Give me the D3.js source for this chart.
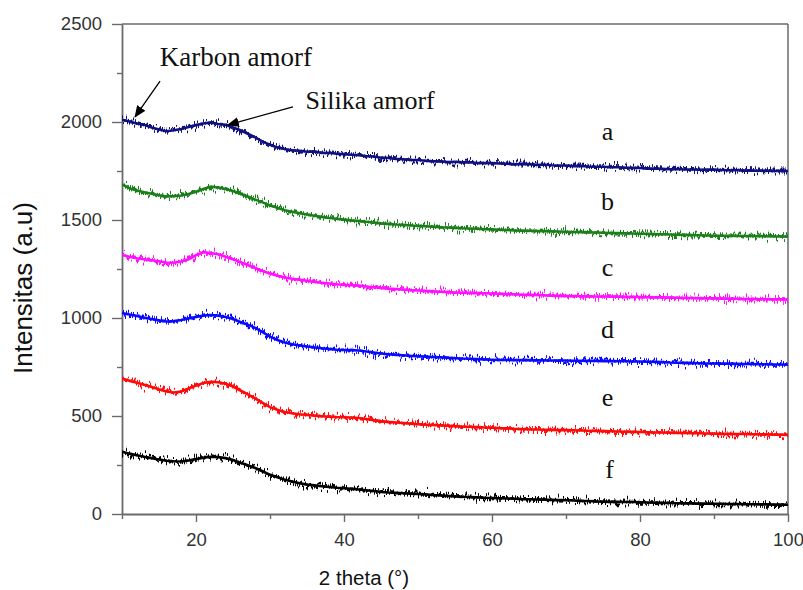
<!DOCTYPE html>
<html>
<head>
<meta charset="utf-8">
<script src="https://cdn.jsdelivr.net/npm/d3@7"></script>
<style>
  body { margin: 0; background: #fff; }
  svg text { font-family: "Liberation Sans", Arial, sans-serif; }
</style>
</head>
<body>
<div id="plot"></div>
<script>
// 2 theta sampling grid (1 degree steps, 10..100)
var twoTheta = d3.range(10, 101, 1);

// intensities, one value per degree
var seriesA = [2012,2003,1992,1986,1972,1962,1953,1958,1964,1975,1984,1992,1998,1990,1986,1972,1958,1940,1922,1900,
  1884,1870,1862,1855,1853,1848,1850,1842,1843,1838,1836,1833,1830,1826,1824,1818,1816,1812,1810,1806,
  1806,1802,1800,1799,1796,1797,1794,1795,1791,1790,1790,1788,1787,1784,1786,1785,1781,1783,1779,1778,
  1778,1775,1776,1773,1772,1772,1769,1769,1767,1766,1765,1762,1763,1761,1759,1760,1758,1758,1756,1757,
  1757,1755,1754,1755,1752,1753,1751,1752,1750,1751,1750];
var seriesB = [1682,1662,1650,1642,1634,1626,1620,1622,1625,1633,1644,1658,1670,1666,1658,1648,1634,1620,1604,1590,
  1574,1562,1550,1542,1534,1528,1522,1516,1510,1506,1502,1498,1495,1491,1487,1483,1480,1477,1475,1472,
  1470,1468,1466,1463,1462,1460,1458,1457,1455,1453,1452,1450,1449,1447,1446,1445,1444,1443,1442,1441,
  1440,1439,1438,1437,1436,1435,1434,1433,1432,1431,1430,1429,1428,1427,1426,1425,1424,1423,1422,1421,
  1420,1420,1419,1419,1418,1418,1417,1417,1416,1416,1415];
var seriesC = [1322,1312,1305,1300,1295,1290,1283,1282,1288,1300,1320,1336,1332,1325,1313,1300,1285,1270,1255,1240,
  1227,1215,1207,1200,1195,1190,1184,1180,1176,1172,1169,1167,1165,1161,1157,1153,1150,1148,1145,1142,
  1140,1138,1136,1134,1132,1130,1129,1128,1127,1126,1125,1124,1122,1121,1119,1118,1117,1116,1114,1113,
  1112,1112,1111,1111,1110,1110,1109,1109,1108,1108,1107,1106,1105,1105,1104,1103,1102,1102,1101,1100,
  1100,1099,1099,1098,1097,1097,1096,1096,1095,1095,1094];
var seriesD = [1025,1018,1010,1002,995,988,982,984,990,998,1005,1012,1015,1012,1005,995,980,966,950,928,
  905,888,875,866,860,855,850,846,842,838,837,836,834,829,824,819,815,812,810,807,
  805,803,801,799,797,795,793,792,790,788,787,786,786,785,785,785,784,784,783,783,
  783,782,782,781,781,780,780,779,779,778,778,777,776,775,773,772,771,770,769,768,
  768,767,767,766,765,765,764,764,763,763,762];
var seriesE = [692,680,670,660,648,636,625,620,625,640,655,668,675,672,665,650,630,610,590,567,
  545,532,520,514,509,505,502,499,497,495,494,492,490,485,479,474,470,467,464,461,
  458,456,454,452,450,448,446,445,443,441,440,438,437,435,434,432,431,430,429,428,
  428,427,426,425,424,423,422,421,420,419,418,417,416,416,415,414,413,412,412,411,
  410,409,409,408,408,407,406,406,405,405,404];
var seriesF = [318,308,300,292,285,278,272,269,268,273,280,287,292,290,285,275,262,249,235,218,
  200,187,175,166,157,150,146,142,138,134,131,128,125,121,117,113,110,108,106,104,
  102,100,97,95,92,90,88,87,85,83,82,80,79,78,76,75,74,73,72,71,
  70,69,67,66,64,63,62,62,61,61,60,59,58,57,56,55,54,54,53,53,
  52,52,51,51,50,50,49,49,48,48,47];

var seriesNames = ["a", "b", "c", "d", "e", "f"];
var seriesColors = ["#10107e", "#1a7f1a", "#ff10ff", "#0a0aff", "#ff0a0a", "#000000"];
// where each letter sits, in data units
var labelX = [75.6, 75.6, 75.6, 75.6, 75.6, 75.9];
var labelY = [1908, 1551, 1214, 898, 551, 184];

var xTicks = [20, 40, 60, 80, 100];
var xMinorTicks = [10, 30, 50, 70, 90];
var yTicks = [0, 500, 1000, 1500, 2000, 2500];
var yMinorTicks = [250, 750, 1250, 1750, 2250];

// annotations: text anchor and arrow tail/tip in data units
var annotations = [
  {text: "Karbon amorf", size: 27, tx: 15.1, ty: 2288, x1: 15.14, y1: 2209, x2: 11.76, y2: 2026},
  {text: "Silika amorf", size: 26, tx: 34.8, ty: 2066, x1: 33.1, y1: 2077, x2: 24.3, y2: 1985}
];

var allSeries = [seriesA, seriesB, seriesC, seriesD, seriesE, seriesF];

// dimensions
var margin = {top: 24, right: 15, bottom: 76, left: 122},
    width = 803 - margin.left - margin.right,
    height = 590 - margin.top - margin.bottom;

var svgRoot = d3.select("#plot")
  .append("svg")
  .attr("width", 803)
  .attr("height", 590);

var defs = svgRoot.append("defs");
// arrow head
defs.append("marker")
  .attr("id", "head")
  .attr("viewBox", "0 0 12 10")
  .attr("refX", 11)
  .attr("refY", 5)
  .attr("markerWidth", 12)
  .attr("markerHeight", 10)
  .attr("markerUnits", "userSpaceOnUse")
  .attr("orient", "auto")
  .append("path")
  .attr("d", "M0,0 L12,5 L0,10 Z")
  .attr("fill", "#000");

// keep the traces inside the frame horizontally
defs.append("clipPath")
  .attr("id", "plotclip")
  .append("rect")
  .attr("x", 0).attr("y", -30)
  .attr("width", width).attr("height", height + 60);

// jitter texture so the smooth traces look like raw diffractometer scans
// (region is in the plot group's own coordinates)
var flt = defs.append("filter")
  .attr("id", "fuzz")
  .attr("filterUnits", "userSpaceOnUse")
  .attr("x", -20).attr("y", -30).attr("width", 710).attr("height", 560)
  .attr("color-interpolation-filters", "sRGB");
flt.append("feTurbulence")
  .attr("type", "fractalNoise")
  .attr("baseFrequency", "0.9 0.04")
  .attr("numOctaves", 2)
  .attr("seed", 4)
  .attr("result", "t");
flt.append("feDisplacementMap")
  .attr("in", "SourceGraphic")
  .attr("in2", "t")
  .attr("scale", 16)
  .attr("xChannelSelector", "B")
  .attr("yChannelSelector", "R");

var svg = svgRoot.append("g")
  .attr("transform", "translate(" + margin.left + "," + margin.top + ")");

// scales
var x = d3.scaleLinear().domain([10, 100]).range([0, width]);
var y = d3.scaleLinear().domain([0, 2500]).range([height, 0]);

var axisColor = "#6a6a6a";

// frame: top and right
svg.append("line")
  .attr("x1", 0).attr("x2", width).attr("y1", 0).attr("y2", 0)
  .attr("stroke", axisColor).attr("stroke-width", 1.5);
svg.append("line")
  .attr("x1", width).attr("x2", width).attr("y1", 0).attr("y2", height)
  .attr("stroke", axisColor).attr("stroke-width", 1.5);

// X axis
var gx = svg.append("g")
  .attr("transform", "translate(0," + height + ")")
  .call(d3.axisBottom(x).tickValues(xTicks).tickSize(8).tickSizeOuter(0).tickFormat(d3.format("d")));
svg.append("g")
  .attr("transform", "translate(0," + height + ")")
  .call(d3.axisBottom(x).tickValues(xMinorTicks).tickSize(5).tickFormat(""))
  .select(".domain").remove();

// Y axis
var gy = svg.append("g")
  .call(d3.axisLeft(y).tickValues(yTicks).tickSize(10).tickSizeOuter(0).tickPadding(10).tickFormat(d3.format("d")));
svg.append("g")
  .call(d3.axisLeft(y).tickValues(yMinorTicks).tickSize(5).tickFormat(""))
  .select(".domain").remove();

svg.selectAll(".domain").attr("stroke", axisColor).attr("stroke-width", 1.8);
svg.selectAll(".tick line").attr("stroke", axisColor).attr("stroke-width", 1.4);
svg.selectAll(".tick text")
  .attr("fill", "#333")
  .style("font-size", "18.5px")
  .style("font-family", "'Liberation Sans', Arial, sans-serif");
gx.selectAll(".tick text").attr("y", 19);

// axis labels
svg.append("text")
  .attr("text-anchor", "middle")
  .attr("x", x(42.7))
  .attr("y", height + 71)
  .style("font-size", "20.5px")
  .attr("fill", "#111")
  .text("2 theta (°)");

svg.append("text")
  .attr("text-anchor", "middle")
  .attr("transform", "translate(" + (-90) + "," + (height / 2 + 19) + ") rotate(-90)")
  .style("font-size", "26px")
  .attr("fill", "#111")
  .text("Intensitas (a.u)");

// traces
var line = d3.line()
  .x(function (d, i) { return x(twoTheta[i]); })
  .y(function (d) { return y(d); });

var traces = svg.append("g").attr("clip-path", "url(#plotclip)");

allSeries.forEach(function (data, k) {
  var g = traces.append("g").attr("class", "trace trace-" + seriesNames[k]);
  g.append("path")
    .datum(data)
    .attr("d", line)
    .attr("fill", "none")
    .attr("stroke", seriesColors[k])
    .attr("stroke-width", 2.8)
    .attr("filter", "url(#fuzz)");
  g.append("path")
    .datum(data)
    .attr("d", line)
    .attr("fill", "none")
    .attr("stroke", seriesColors[k])
    .attr("stroke-width", 2.6);
});

// series letters
svg.selectAll("series-label")
  .data(seriesNames)
  .enter()
  .append("text")
  .attr("x", function (d, i) { return x(labelX[i]); })
  .attr("y", function (d, i) { return y(labelY[i]); })
  .attr("text-anchor", "middle")
  .style("font-family", "'Liberation Serif', 'Times New Roman', serif")
  .style("font-size", "26px")
  .attr("fill", "#111")
  .text(function (d) { return d; });

// annotations
svg.selectAll("anno-arrow")
  .data(annotations)
  .enter()
  .append("line")
  .attr("x1", function (d) { return x(d.x1); })
  .attr("y1", function (d) { return y(d.y1); })
  .attr("x2", function (d) { return x(d.x2); })
  .attr("y2", function (d) { return y(d.y2); })
  .attr("stroke", "#000")
  .attr("stroke-width", 1.3)
  .attr("marker-end", "url(#head)");

svg.selectAll("anno-text")
  .data(annotations)
  .enter()
  .append("text")
  .attr("x", function (d) { return x(d.tx); })
  .attr("y", function (d) { return y(d.ty); })
  .style("font-family", "'Liberation Serif', 'Times New Roman', serif")
  .style("font-size", function (d) { return d.size + "px"; })
  .attr("fill", "#111")
  .text(function (d) { return d.text; });
</script>
</body>
</html>
